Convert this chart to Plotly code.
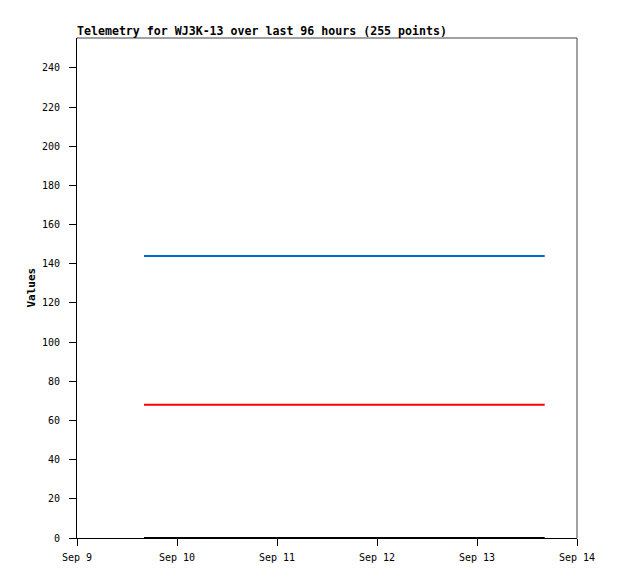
import plotly.graph_objects as go

# Data
times = ["2024-09-09 16:05", "2024-09-13 16:15"]
series_blue = [144, 144]
series_red = [68, 68]
series_black = [0, 0]
y_tick_vals = [0, 20, 40, 60, 80, 100, 120, 140, 160, 180, 200, 220, 240]
x_tick_vals = ["2024-09-09", "2024-09-10", "2024-09-11", "2024-09-12", "2024-09-13", "2024-09-14"]
x_tick_text = ["Sep 9", "Sep 10", "Sep 11", "Sep 12", "Sep 13", "Sep 14"]

FONT = "DejaVu Sans Mono"

fig = go.Figure()
fig.add_trace(go.Scatter(x=times, y=series_blue, mode="lines",
                         line=dict(color="#0066cc", width=2), showlegend=False))
fig.add_trace(go.Scatter(x=times, y=series_red, mode="lines",
                         line=dict(color="#ff0000", width=2), showlegend=False))
fig.add_trace(go.Scatter(x=times, y=series_black, mode="lines",
                         line=dict(color="#000000", width=2), showlegend=False,
                         cliponaxis=False))

W, H = 610, 571
fig.update_layout(
    width=W, height=H,
    margin=dict(l=69, r=41, t=30, b=41),
    paper_bgcolor="white", plot_bgcolor="white",
    font=dict(family=FONT, size=10, color="black"),
    title=dict(text="<b>Telemetry for WJ3K-13 over last 96 hours (255 points)</b>",
               x=69/W, xanchor="left", y=1-23/H, yanchor="middle",
               font=dict(family=FONT, size=11.6, color="black")),
    xaxis=dict(range=["2024-09-09", "2024-09-14"], tickvals=x_tick_vals, ticktext=x_tick_text,
               showgrid=False, zeroline=False, showline=True, linecolor="black", linewidth=1,
               ticks="outside", ticklen=7, tickcolor="black", ticklabelstandoff=3,
               tickfont=dict(family=FONT, size=10)),
    yaxis=dict(range=[0, 255.3], tickvals=y_tick_vals, showgrid=False, zeroline=False,
               showline=True, linecolor="black", linewidth=1,
               ticks="outside", ticklen=7, tickcolor="black", ticklabelstandoff=7,
               tickfont=dict(family=FONT, size=10)),
    annotations=[
        dict(text="<b>Values</b>", xref="paper", yref="paper", x=-46.5/500, y=0.5,
             xanchor="center", yanchor="middle", textangle=-90, showarrow=False,
             font=dict(family=FONT, size=11, color="black")),
    ],
    shapes=[
        dict(type="line", xref="paper", yref="paper", x0=0, x1=1, y0=1, y1=1,
             line=dict(color="#444444", width=1)),
        dict(type="line", xref="paper", yref="paper", x0=1, x1=1, y0=0, y1=1,
             line=dict(color="#444444", width=1)),
    ],
)

fig.write_html("out.html")
